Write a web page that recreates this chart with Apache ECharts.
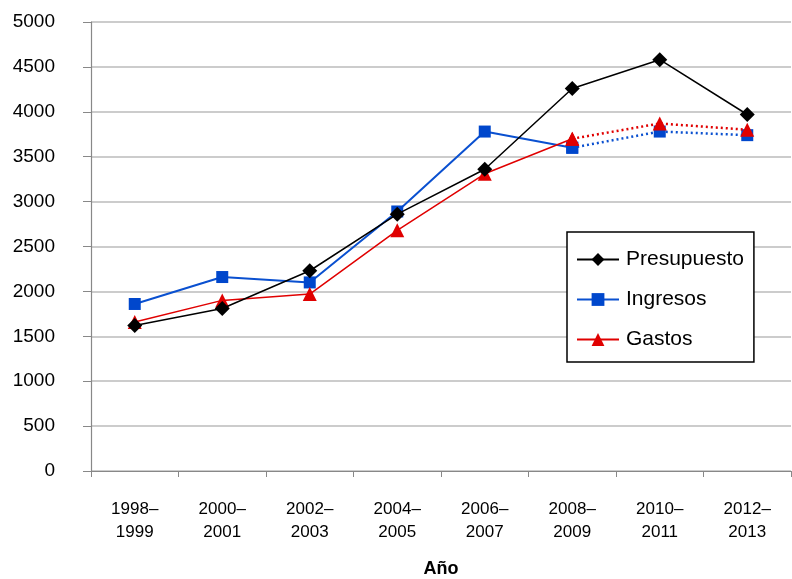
<!DOCTYPE html>
<html><head><meta charset="utf-8">
<script src="https://cdn.jsdelivr.net/npm/echarts@6/dist/echarts.min.js"></script>
<style>html,body{margin:0;padding:0;background:#fff}#c{width:792px;height:579px}</style>
</head><body><div id="c"></div>
<script>
const categories = ['1998–\n1999','2000–\n2001','2002–\n2003','2004–\n2005','2006–\n2007','2008–\n2009','2010–\n2011','2012–\n2013'];
const presupuesto = [1620, 1810, 2230, 2860, 3360, 4260, 4580, 3970];
const ingresos = [1860, 2160, 2100, 2890, 3780, 3600, 3780, 3740];
const gastos = [1660, 1900, 1970, 2680, 3310, 3700, 3870, 3800];
const yTicks = [0, 500, 1000, 1500, 2000, 2500, 3000, 3500, 4000, 4500, 5000];
const solidEnd = 5;

function solidPart(a){ return a.map((v,i)=> i<=solidEnd ? v : null); }
function dottedPart(a){ return a.map((v,i)=> i>=solidEnd ? v : null); }

const chart = echarts.init(document.getElementById('c'));
const font = 'Liberation Sans, Arial, sans-serif';
chart.setOption({
  animation:false,
  grid:{left:91, right:1, top:22, bottom:108, containLabel:false, outerBoundsMode:'none'},
  legend:{
    orient:'vertical', left:567, top:232, width:186,
    padding:[17,10,12,9], itemGap:19, itemWidth:42, itemHeight:16,
    borderColor:'#000', borderWidth:1.5, backgroundColor:'#fff',
    textStyle:{fontFamily:font, fontSize:21, color:'#000', padding:[0,10,0,2]},
    data:['Presupuesto','Ingresos','Gastos']
  },
  xAxis:{
    type:'category', data:categories, boundaryGap:true,
    name:'Año', nameLocation:'middle', nameGap:89,
    nameTextStyle:{fontFamily:font, fontSize:18, fontWeight:'bold', color:'#000'},
    axisLine:{lineStyle:{color:'#888', width:1.2}},
    axisTick:{show:true, length:6, lineStyle:{color:'#888'}},
    axisLabel:{fontFamily:font, fontSize:17, color:'#000', margin:27, lineHeight:23}
  },
  yAxis:{
    type:'value', min:yTicks[0], max:yTicks[yTicks.length-1], interval:500,
    axisLine:{show:true, lineStyle:{color:'#888', width:1.2}},
    axisTick:{show:true, length:8, lineStyle:{color:'#888'}},
    axisLabel:{fontFamily:font, fontSize:19, color:'#000', margin:36, formatter:v=>String(v)},
    splitLine:{lineStyle:{color:'#bbb', width:1.5}}
  },
  series:[
    {name:'Presupuesto', type:'line', data:presupuesto, symbol:'diamond', symbolSize:15,
      itemStyle:{color:'#000'}, lineStyle:{color:'#000', width:1.5}, z:5},
    {name:'Ingresos', type:'line', data:solidPart(ingresos), symbol:'rect', symbolSize:12,
      itemStyle:{color:'#0047CC'}, lineStyle:{color:'#0A50D0', width:2}, z:3},
    {name:'Ingresos', type:'line', data:dottedPart(ingresos), symbol:'rect', symbolSize:12,
      itemStyle:{color:'#0047CC'}, lineStyle:{color:'#0A50D0', width:2.5, type:[2,3]}, z:3},
    {name:'Gastos', type:'line', data:solidPart(gastos), symbol:'triangle', symbolSize:14,
      itemStyle:{color:'#E00000'}, lineStyle:{color:'#E00000', width:1.5}, z:4},
    {name:'Gastos', type:'line', data:dottedPart(gastos), symbol:'triangle', symbolSize:14,
      itemStyle:{color:'#E00000'}, lineStyle:{color:'#E00000', width:2.5, type:[2,3]}, z:4}
  ]
});
</script></body></html>
